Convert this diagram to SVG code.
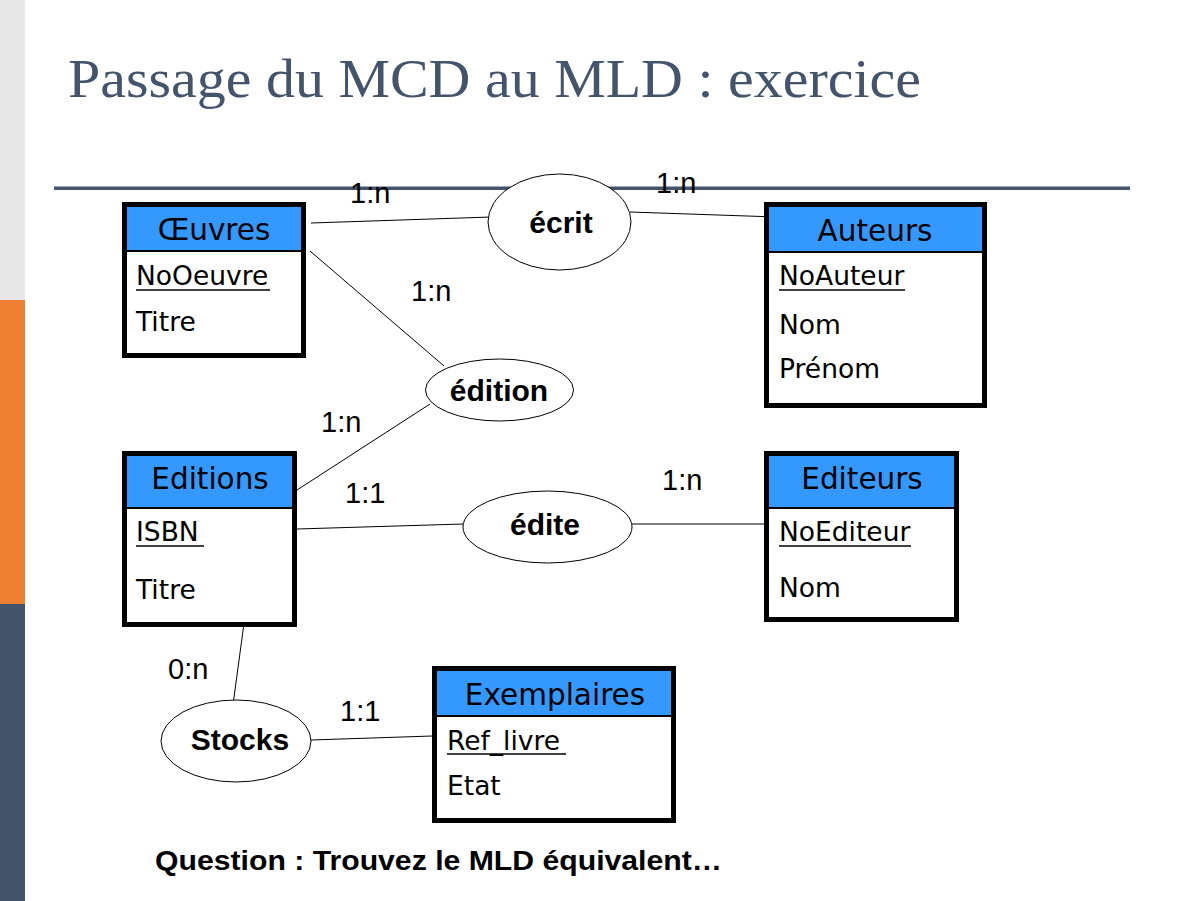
<svg xmlns="http://www.w3.org/2000/svg" width="1197" height="901" viewBox="0 0 1197 901">
<style>
.ent{fill:#fff;stroke:#000;stroke-width:5}
.hdr{fill:#3399ff}
.sep{stroke:#000;stroke-width:2}
.ht{font-family:"DejaVu Sans",Verdana,sans-serif;font-size:29.5px;fill:#000;text-anchor:middle}
.at{font-family:"DejaVu Sans",Verdana,sans-serif;font-size:26.5px;fill:#000}
.ul{stroke:#000;stroke-width:1.5}
.rel{fill:#fff;stroke:#000;stroke-width:1}
.rt{font-family:"Liberation Sans",Arial,sans-serif;font-size:30px;font-weight:bold;fill:#000;text-anchor:middle}
.card{font-family:"Liberation Sans",Arial,sans-serif;font-size:29px;fill:#000}
.cn{stroke:#000;stroke-width:1;fill:none}
</style>
<rect x="0" y="0" width="1197" height="901" fill="#fff"/>
<rect x="0" y="0" width="25" height="300" fill="#e7e7e7"/>
<rect x="0" y="300" width="25" height="304" fill="#ee7f33"/>
<rect x="0" y="604" width="25" height="297" fill="#44546a"/>
<text x="68" y="97" font-family="Liberation Serif,'Times New Roman',serif" font-size="54" fill="#44546a" textLength="853" lengthAdjust="spacingAndGlyphs">Passage du MCD au MLD : exercice</text>
<rect x="54" y="186.5" width="1076" height="3.5" fill="#44546a"/>

<g id="connectors">
<line class="cn" x1="311" y1="223" x2="491" y2="217"/>
<line class="cn" x1="630" y1="212" x2="776" y2="217"/>
<line class="cn" x1="310" y1="251" x2="444" y2="366"/>
<line class="cn" x1="430" y1="404" x2="297" y2="490"/>
<line class="cn" x1="297" y1="529" x2="463" y2="524"/>
<line class="cn" x1="632" y1="524" x2="764" y2="524"/>
<line class="cn" x1="243.5" y1="627" x2="233.5" y2="701"/>
<line class="cn" x1="311" y1="740" x2="432" y2="736"/>
</g>

<g id="labels">
<text class="card" x="350" y="203">1:n</text>
<text class="card" x="656" y="193">1:n</text>
<text class="card" x="411" y="301">1:n</text>
<text class="card" x="321" y="432">1:n</text>
<text class="card" x="345" y="503">1:1</text>
<text class="card" x="662" y="490">1:n</text>
<text class="card" x="168" y="679">0:n</text>
<text class="card" x="340" y="721">1:1</text>
</g>

<g id="oeuvres">
<rect class="ent" x="124.5" y="204.5" width="179" height="151"/>
<rect class="hdr" x="127" y="207" width="174" height="44"/>
<line class="sep" x1="127" y1="251" x2="301" y2="251"/>
<text class="ht" x="214" y="240">Œuvres</text>
<text class="at" x="136" y="285">NoOeuvre</text>
<line class="ul" x1="136" y1="290" x2="270" y2="290"/>
<text class="at" x="136" y="331">Titre</text>
</g>

<g id="auteurs">
<rect class="ent" x="766.5" y="204.5" width="218" height="201"/>
<rect class="hdr" x="769" y="207" width="213" height="45"/>
<line class="sep" x1="769" y1="252" x2="982" y2="252"/>
<text class="ht" x="875" y="241">Auteurs</text>
<text class="at" x="779" y="285">NoAuteur</text>
<line class="ul" x1="779" y1="290" x2="905" y2="290"/>
<text class="at" x="779" y="334">Nom</text>
<text class="at" x="779" y="378">Prénom</text>
</g>

<g id="editions">
<rect class="ent" x="124.5" y="453.5" width="170" height="171"/>
<rect class="hdr" x="127" y="456" width="165" height="52"/>
<line class="sep" x1="127" y1="508" x2="292" y2="508"/>
<text class="ht" x="210" y="489">Editions</text>
<text class="at" x="136" y="541">ISBN</text>
<line class="ul" x1="136" y1="546" x2="204" y2="546"/>
<text class="at" x="136" y="599">Titre</text>
</g>

<g id="editeurs">
<rect class="ent" x="766.5" y="453.5" width="190" height="166"/>
<rect class="hdr" x="769" y="456" width="185" height="52"/>
<line class="sep" x1="769" y1="508" x2="954" y2="508"/>
<text class="ht" x="862" y="489">Editeurs</text>
<text class="at" x="779" y="541">NoEditeur</text>
<line class="ul" x1="779" y1="546" x2="911" y2="546"/>
<text class="at" x="779" y="597">Nom</text>
</g>

<g id="exemplaires">
<rect class="ent" x="434.5" y="668.5" width="239" height="152"/>
<rect class="hdr" x="437" y="671" width="234" height="45"/>
<line class="sep" x1="437" y1="716" x2="671" y2="716"/>
<text class="ht" x="555" y="705">Exemplaires</text>
<text class="at" x="447" y="750">Ref_livre</text>
<line class="ul" x1="447" y1="754" x2="566" y2="754"/>
<text class="at" x="447" y="795">Etat</text>
</g>

<g id="ecrit">
<ellipse class="rel" cx="559.5" cy="222" rx="71.5" ry="48"/>
<text class="rt" x="561" y="233">écrit</text>
</g>
<g id="edition">
<ellipse class="rel" cx="499.5" cy="390" rx="74" ry="31"/>
<text class="rt" x="499" y="401">édition</text>
</g>
<g id="edite">
<ellipse class="rel" cx="547.5" cy="527" rx="84.5" ry="36"/>
<text class="rt" x="545" y="535">édite</text>
</g>
<g id="stocks">
<ellipse class="rel" cx="236" cy="741" rx="75" ry="41"/>
<text class="rt" x="240" y="750">Stocks</text>
</g>

<text x="155" y="870" font-family="'Liberation Sans',Arial,sans-serif" font-size="28" font-weight="bold" fill="#000" textLength="567" lengthAdjust="spacingAndGlyphs">Question : Trouvez le MLD équivalent…</text>
</svg>
